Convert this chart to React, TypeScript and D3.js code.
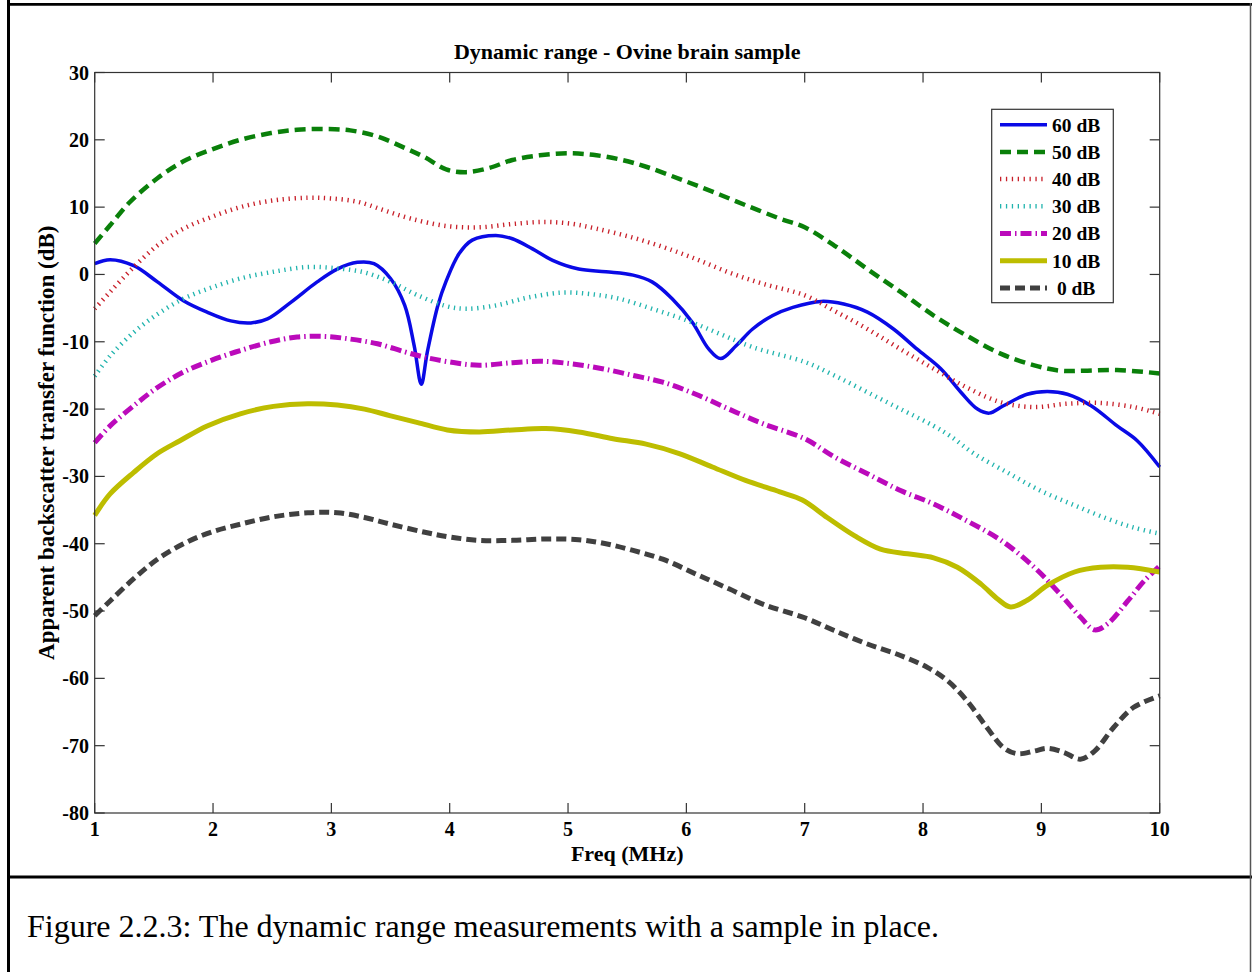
import React from "react";
import * as d3 from "d3";

// ---- data (freq MHz, apparent backscatter transfer function dB) ----
const xTicks = [1, 2, 3, 4, 5, 6, 7, 8, 9, 10];
const yTicks = [30, 20, 10, 0, -10, -20, -30, -40, -50, -60, -70, -80];

const s60: [number, number][] = [
  [1, 1.6], [1.13, 2.2], [1.33, 1.3], [1.53, -1.1], [1.75, -3.9], [1.95, -5.6], [2.15, -6.9], [2.32, -7.2],
  [2.46, -6.6], [2.66, -4.1], [2.88, -1.1], [3.05, 0.8], [3.22, 1.8], [3.36, 1.6], [3.5, -0.6], [3.62, -4.6],
  [3.7, -10.6], [3.76, -16.3], [3.81, -11.6], [3.9, -4.6], [3.97, -1.0], [4.08, 3.1], [4.19, 5.1], [4.39, 5.8],
  [4.53, 5.3], [4.7, 3.8], [4.87, 2.1], [5.09, 0.8], [5.32, 0.4], [5.55, -0.1], [5.71, -1.1], [5.88, -3.6],
  [6.05, -7.1], [6.19, -11.1], [6.29, -12.5], [6.42, -10.6], [6.56, -8.1], [6.73, -6.1], [6.9, -4.9],
  [7.14, -4.0], [7.33, -4.4], [7.53, -5.6], [7.75, -8.1], [7.95, -11.1], [8.15, -14.0], [8.32, -17.5],
  [8.46, -20.0], [8.56, -20.6], [8.68, -19.5], [8.88, -17.8], [9.05, -17.4], [9.22, -17.8], [9.42, -19.5],
  [9.64, -22.5], [9.81, -24.7], [10, -28.6],
];
const s50: [number, number][] = [
  [1, 4.6], [1.13, 7.3], [1.3, 10.8], [1.53, 14.3], [1.75, 16.8], [1.98, 18.5], [2.23, 20.0], [2.49, 21.0],
  [2.71, 21.5], [2.94, 21.6], [3.16, 21.4], [3.39, 20.5], [3.62, 18.8], [3.79, 17.4], [3.97, 15.6], [4.14, 15.2],
  [4.33, 15.8], [4.53, 17.0], [4.76, 17.7], [5.01, 18.0], [5.24, 17.7], [5.46, 17.0], [5.66, 16.0], [5.94, 14.2],
  [6.22, 12.3], [6.5, 10.3], [6.79, 8.3], [7.0, 7.0], [7.25, 4.3], [7.53, 0.8], [7.81, -2.6], [8.09, -6.1],
  [8.37, -9.1], [8.66, -11.8], [8.94, -13.5], [9.16, -14.3], [9.36, -14.3], [9.64, -14.2], [10, -14.7],
];
const s40: [number, number][] = [
  [1, -5.1], [1.13, -2.6], [1.33, 1.1], [1.53, 4.3], [1.75, 6.8], [1.98, 8.5], [2.23, 10.0], [2.51, 11.0],
  [2.8, 11.4], [2.99, 11.3], [3.22, 10.8], [3.45, 9.5], [3.67, 8.3], [3.97, 7.2], [4.25, 7.0], [4.53, 7.5],
  [4.81, 7.8], [5.04, 7.5], [5.24, 6.8], [5.52, 5.6], [5.8, 4.1], [6.08, 2.3], [6.36, 0.3], [6.65, -1.4],
  [7.0, -3.1], [7.25, -5.4], [7.53, -8.1], [7.81, -11.1], [8.09, -14.0], [8.37, -16.8], [8.66, -19.0],
  [8.94, -19.7], [9.22, -19.2], [9.5, -19.1], [9.78, -19.7], [10, -20.7],
];
const s30: [number, number][] = [
  [1, -15.1], [1.13, -12.1], [1.33, -8.6], [1.53, -5.9], [1.75, -3.6], [1.98, -2.0], [2.23, -0.6], [2.51, 0.4],
  [2.8, 1.1], [3.05, 0.9], [3.28, 0.3], [3.5, -1.1], [3.73, -3.1], [3.97, -4.7], [4.14, -5.1], [4.39, -4.6],
  [4.67, -3.4], [4.95, -2.7], [5.18, -2.9], [5.43, -3.6], [5.71, -5.1], [6.0, -6.8], [6.28, -8.8], [6.56, -10.8],
  [7.0, -13.0], [7.25, -15.0], [7.53, -17.5], [7.81, -20.0], [8.09, -22.5], [8.23, -24.0], [8.43, -26.6],
  [8.71, -29.4], [8.99, -32.1], [9.28, -34.3], [9.56, -36.3], [9.78, -37.6], [10, -38.5],
];
const s20: [number, number][] = [
  [1, -25.0], [1.13, -22.5], [1.33, -19.5], [1.53, -16.8], [1.75, -14.5], [1.98, -12.8], [2.23, -11.3],
  [2.49, -10.0], [2.71, -9.3], [2.94, -9.2], [3.16, -9.6], [3.39, -10.3], [3.62, -11.5], [3.79, -12.3],
  [4.0, -13.0], [4.25, -13.5], [4.53, -13.1], [4.78, -12.9], [5.04, -13.3], [5.29, -14.0], [5.55, -15.0],
  [5.8, -16.0], [6.08, -17.8], [6.36, -20.0], [6.65, -22.2], [7.0, -24.4], [7.25, -27.1], [7.53, -29.6],
  [7.81, -32.1], [8.09, -34.1], [8.37, -36.6], [8.66, -39.5], [8.94, -43.5], [9.16, -47.5], [9.33, -50.9],
  [9.45, -52.8], [9.56, -51.9], [9.73, -48.5], [9.87, -45.5], [10, -43.3],
];
const s10: [number, number][] = [
  [1, -35.8], [1.13, -32.6], [1.33, -29.4], [1.53, -26.6], [1.72, -24.7], [1.95, -22.5], [2.23, -20.7],
  [2.51, -19.6], [2.8, -19.2], [3.05, -19.4], [3.28, -20.0], [3.5, -21.0], [3.73, -22.0], [3.98, -23.1],
  [4.25, -23.4], [4.53, -23.1], [4.81, -22.9], [5.09, -23.4], [5.38, -24.4], [5.66, -25.2], [5.94, -26.6],
  [6.22, -28.6], [6.5, -30.6], [6.79, -32.3], [6.98, -33.5], [7.19, -36.1], [7.42, -38.8], [7.64, -40.8],
  [7.87, -41.5], [8.09, -42.1], [8.29, -43.5], [8.49, -46.0], [8.63, -48.2], [8.74, -49.4], [8.88, -48.4],
  [9.05, -46.2], [9.28, -44.2], [9.5, -43.5], [9.73, -43.5], [10, -44.2],
];
const s0: [number, number][] = [
  [1, -50.7], [1.13, -48.5], [1.33, -45.2], [1.53, -42.3], [1.75, -40.0], [1.98, -38.3], [2.23, -37.1],
  [2.51, -36.0], [2.8, -35.4], [3.05, -35.4], [3.28, -36.1], [3.5, -37.1], [3.79, -38.3], [4.0, -39.0],
  [4.25, -39.5], [4.53, -39.5], [4.81, -39.3], [5.09, -39.4], [5.32, -40.0], [5.55, -41.0], [5.8, -42.3],
  [6.08, -44.5], [6.36, -46.7], [6.65, -49.0], [7.0, -51.0], [7.25, -52.9], [7.53, -54.9], [7.81, -56.6],
  [8.04, -58.4], [8.21, -60.4], [8.37, -63.3], [8.54, -67.3], [8.68, -70.3], [8.8, -71.2], [8.94, -70.8],
  [9.05, -70.4], [9.19, -71.0], [9.33, -72.0], [9.45, -70.8], [9.61, -67.3], [9.78, -64.3], [10, -62.6],
];

const seriesNames = ["60 dB", "50 dB", "40 dB", "30 dB", "20 dB", "10 dB", " 0 dB"];
const seriesData = [s60, s50, s40, s30, s20, s10, s0];

const styles = [
  { color: "#0a0ae6", width: 3.5, dash: "" },
  { color: "#0a800a", width: 4.5, dash: "11,6" },
  { color: "#c8202a", width: 4.5, dash: "1.3,4.6" },
  { color: "#22b4ae", width: 4.5, dash: "1.3,4.6" },
  { color: "#bb0abb", width: 5, dash: "11,4,1.5,4" },
  { color: "#bdbd00", width: 5, dash: "" },
  { color: "#404040", width: 5, dash: "10,5" },
];

const SERIF = "'Liberation Serif', 'Times New Roman', serif";

export default function App() {
  const left = 94.7, right = 1159.7, top = 72.5, bottom = 813;
  const x = d3.scaleLinear().domain([1, 10]).range([left, right]);
  const y = d3.scaleLinear().domain([-80, 30]).range([bottom, top]);
  const line = d3
    .line<[number, number]>()
    .x((d) => x(d[0]))
    .y((d) => y(d[1]))
    .curve(d3.curveCatmullRom.alpha(0.5));
  const tickLen = 10;
  const axisColor = "#333";

  const legX = 991.7, legY = 109.3, legW = 121.6, legH = 193.4;
  const legRow = 27.2;

  return (
    <svg
      width={1252}
      height={972}
      style={{ position: "absolute", left: 0, top: 0, background: "#fff" }}
      fontFamily={SERIF}
    >
      <rect x={0} y={0} width={1252} height={972} fill="#fff" />
      <defs>
        <clipPath id="plotclip">
          <rect x={left - 3} y={top - 3} width={right - left + 6} height={bottom - top + 6} />
        </clipPath>
      </defs>
      {/* outer frame */}
      <line x1={8.5} y1={0} x2={8.5} y2={972} stroke="#000" strokeWidth={3} />
      <line x1={7} y1={4.3} x2={1252} y2={4.3} stroke="#000" strokeWidth={2.8} />
      <line x1={7} y1={877} x2={1252} y2={877} stroke="#000" strokeWidth={3} />
      <line x1={1250.5} y1={3} x2={1250.5} y2={972} stroke="#555" strokeWidth={1.5} />

      {/* title */}
      <text x={(left + right) / 2} y={59} textAnchor="middle" fontWeight="bold" fontSize={22}>
        Dynamic range - Ovine brain sample
      </text>

      {/* series */}
      <g clipPath="url(#plotclip)">
        {seriesData.map((d, i) => (
          <path
            key={seriesNames[i]}
            d={line(d) || ""}
            fill="none"
            stroke={styles[i].color}
            strokeWidth={styles[i].width}
            strokeDasharray={styles[i].dash || undefined}
            strokeLinejoin="round"
          />
        ))}
      </g>

      {/* axes box */}
      <rect x={left} y={top} width={right - left} height={bottom - top} fill="none" stroke={axisColor} strokeWidth={1.2} />
      {xTicks.map((t) => (
        <g key={"xt" + t}>
          <line x1={x(t)} x2={x(t)} y1={bottom} y2={bottom - tickLen} stroke={axisColor} strokeWidth={1.2} />
          <line x1={x(t)} x2={x(t)} y1={top} y2={top + tickLen} stroke={axisColor} strokeWidth={1.2} />
          <text x={x(t)} y={836} textAnchor="middle" fontWeight="bold" fontSize={20}>
            {t}
          </text>
        </g>
      ))}
      {yTicks.map((t) => (
        <g key={"yt" + t}>
          <line x1={left} x2={left + tickLen} y1={y(t)} y2={y(t)} stroke={axisColor} strokeWidth={1.2} />
          <line x1={right} x2={right - tickLen} y1={y(t)} y2={y(t)} stroke={axisColor} strokeWidth={1.2} />
          <text x={89} y={y(t)} dy="0.35em" textAnchor="end" fontWeight="bold" fontSize={20}>
            {t}
          </text>
        </g>
      ))}

      {/* axis labels */}
      <text x={(left + right) / 2} y={861} textAnchor="middle" fontWeight="bold" fontSize={22}>
        Freq (MHz)
      </text>
      <text
        transform={`translate(54, ${(top + bottom) / 2}) rotate(-90)`}
        textAnchor="middle"
        fontWeight="bold"
        fontSize={23}
      >
        Apparent backscatter transfer function (dB)
      </text>

      {/* legend */}
      <rect x={legX} y={legY} width={legW} height={legH} fill="#fff" stroke="#333" strokeWidth={1.2} />
      {seriesNames.map((n, i) => {
        const cy = legY + 15.4 + i * legRow;
        return (
          <g key={"lg" + n}>
            <line
              x1={1000}
              x2={1047}
              y1={cy}
              y2={cy}
              stroke={styles[i].color}
              strokeWidth={styles[i].width}
              strokeDasharray={styles[i].dash || undefined}
            />
            <text
              x={1052}
              y={cy}
              dy="0.35em"
              fontWeight="bold"
              fontSize={19.5}
              style={{ whiteSpace: "pre" }}
            >
              {n}
            </text>
          </g>
        );
      })}

      {/* caption */}
      <text x={27} y={937} fontSize={32}>
        Figure 2.2.3: The dynamic range measurements with a sample in place.
      </text>
    </svg>
  );
}
